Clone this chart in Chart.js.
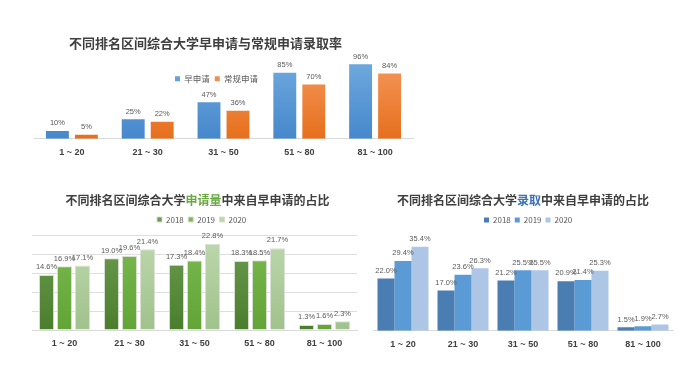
<!DOCTYPE html>
<html><head><meta charset="utf-8">
<script src="https://cdn.jsdelivr.net/npm/chart.js@4/dist/chart.umd.min.js"></script>
<style>
html,body{margin:0;padding:0;background:#fff;width:699px;height:366px;overflow:hidden;}
canvas{position:absolute;}
</style></head><body>
<canvas id="c1" width="699" height="170" style="left:0;top:0"></canvas>
<canvas id="c2" width="360" height="196" style="left:0;top:170px"></canvas>
<canvas id="c3" width="339" height="196" style="left:360px;top:170px"></canvas>
<script>
// ---- data ----
const categories = ['1 ~ 20', '21 ~ 30', '31 ~ 50', '51 ~ 80', '81 ~ 100'];
const rateSeries = ['早申请', '常规申请'];
const earlyAdmitRate = [10, 25, 47, 85, 96];
const regularAdmitRate = [5, 22, 36, 70, 84];
const years = ['2018', '2019', '2020'];
const appShare2018 = [14.6, 19.0, 17.3, 18.3, 1.3];
const appShare2019 = [16.9, 19.6, 18.4, 18.5, 1.6];
const appShare2020 = [17.1, 21.4, 22.8, 21.7, 2.3];
const admitShare2018 = [22.0, 17.0, 21.2, 20.9, 1.5];
const admitShare2019 = [29.4, 23.6, 25.5, 21.4, 1.9];
const admitShare2020 = [35.4, 26.3, 25.5, 25.3, 2.7];
const title1 = [{t: '不同排名区间综合大学早申请与常规申请录取率', c: '#3f3f3f'}];
const title2 = [{t: '不同排名区间综合大学', c: '#3f3f3f'}, {t: '申请量', c: '#6aa842'}, {t: '中来自早申请的占比', c: '#3f3f3f'}];
const title3 = [{t: '不同排名区间综合大学', c: '#3f3f3f'}, {t: '录取', c: '#3a72b8'}, {t: '中来自早申请的占比', c: '#3f3f3f'}];

const NUM = '"Liberation Sans", "Noto Sans CJK SC", sans-serif';
const CJK = '"Noto Sans CJK SC", "Liberation Sans", sans-serif';

function vGrad(top, bottom) {
  return (c) => {
    const ca = c.chart.chartArea;
    if (!ca || c.type !== 'data') return bottom;
    const g = c.chart.ctx.createLinearGradient(0, ca.top, 0, ca.bottom);
    g.addColorStop(0, top); g.addColorStop(1, bottom);
    return g;
  };
}
function titlePlugin(parts, cx, cy, size) {
  return { id: 'segTitle', afterDraw(chart) {
    const ctx = chart.ctx; ctx.save();
    ctx.font = 'bold ' + size + 'px ' + CJK; ctx.textBaseline = 'middle'; ctx.textAlign = 'left';
    let total = 0; parts.forEach(p => total += ctx.measureText(p.t).width);
    let x = cx - total / 2;
    parts.forEach(p => { ctx.fillStyle = p.c; ctx.fillText(p.t, x, cy); x += ctx.measureText(p.t).width; });
    ctx.restore();
  }};
}
function valueLabels(fmt, size, gap) {
  return { id: 'valueLabels', afterDatasetsDraw(chart) {
    const ctx = chart.ctx; ctx.save();
    ctx.font = size + 'px ' + NUM; ctx.fillStyle = '#595959';
    ctx.textAlign = 'center'; ctx.textBaseline = 'bottom';
    chart.data.datasets.forEach((ds, i) => {
      chart.getDatasetMeta(i).data.forEach((bar, j) => ctx.fillText(fmt(ds.data[j]), bar.x, bar.y - gap));
    });
    ctx.restore();
  }};
}
function legendAt(x, y) {
  return { id: 'legendAt',
    beforeInit(chart) { const lg = chart.legend; const fit = lg.fit; lg.fit = function () { fit.call(this); this.height = 0; }; },
    afterLayout(chart) { const lg = chart.legend; const p = lg.options.labels.padding;
      lg.left = x - p; lg.right = lg.left + 300; lg.top = y - p; lg.bottom = lg.top + 30; }
  };
}
function legendOpts(size, pad) {
  return { display: true, position: 'top', align: 'start',
    labels: { boxWidth: 5, boxHeight: 5, padding: pad, color: '#595959', font: { size: size, family: CJK } } };
}
function xAxis() {
  return { grid: { display: false, drawTicks: false }, border: { display: true, color: '#d9d9d9' },
    ticks: { padding: 8, color: '#404040', maxRotation: 0, autoSkip: false, font: { size: 9, weight: 'bold', family: NUM } } };
}
Chart.defaults.animation = false;
Chart.defaults.font.family = CJK;

new Chart(document.getElementById('c1'), {
  type: 'bar',
  data: { labels: categories, datasets: [
    { label: rateSeries[0], data: earlyAdmitRate, backgroundColor: vGrad('#6fa9de', '#4688cc'), categoryPercentage: 0.765, barPercentage: 0.79 },
    { label: rateSeries[1], data: regularAdmitRate, backgroundColor: vGrad('#f5975c', '#e66f1c'), categoryPercentage: 0.765, barPercentage: 0.79 }
  ]},
  options: { responsive: false, layout: { padding: { left: 34, right: 286, top: 61.2, bottom: 4.5 } },
    plugins: { legend: legendOpts(8.5, 5), tooltip: { enabled: false } },
    scales: { x: xAxis(), y: { display: false, min: 0, max: 100 } } },
  plugins: [titlePlugin(title1, 205.5, 43.3, 13), valueLabels(v => v + '%', 7.5, 4), legendAt(175, 74.5)]
});

new Chart(document.getElementById('c2'), {
  type: 'bar',
  data: { labels: categories, datasets: [
    { label: years[0], data: appShare2018, backgroundColor: vGrad('#6c9c52', '#4a7e2b'), borderColor: 'rgba(215,220,210,0.9)', borderWidth: 1, categoryPercentage: 0.83, barPercentage: 0.84 },
    { label: years[1], data: appShare2019, backgroundColor: vGrad('#7aba50', '#62a436'), borderColor: 'rgba(215,220,210,0.9)', borderWidth: 1, categoryPercentage: 0.83, barPercentage: 0.84 },
    { label: years[2], data: appShare2020, backgroundColor: vGrad('#bdd8ae', '#a0c28b'), borderColor: 'rgba(215,220,210,0.9)', borderWidth: 1, categoryPercentage: 0.83, barPercentage: 0.84 }
  ]},
  options: { responsive: false, layout: { padding: { left: 32, right: 3, top: 65.7, bottom: 9.2 } },
    plugins: { legend: legendOpts(8, 4.5), tooltip: { enabled: false } },
    scales: { x: xAxis(), y: { min: 0, max: 25, ticks: { display: false, stepSize: 5 }, grid: { color: '#dedede', drawTicks: false }, border: { display: false } } } },
  plugins: [titlePlugin(title2, 197.5, 30, 12), valueLabels(v => v.toFixed(1) + '%', 7.5, 4), legendAt(157, 45.5)]
});

new Chart(document.getElementById('c3'), {
  type: 'bar',
  data: { labels: categories, datasets: [
    { label: years[0], data: admitShare2018, backgroundColor: '#4a7db2', categoryPercentage: 0.85, barPercentage: 1 },
    { label: years[1], data: admitShare2019, backgroundColor: '#5b9bd5', categoryPercentage: 0.85, barPercentage: 1 },
    { label: years[2], data: admitShare2020, backgroundColor: '#adc6e6', categoryPercentage: 0.85, barPercentage: 1 }
  ]},
  options: { responsive: false, layout: { padding: { left: 13, right: 26, top: 65.8, bottom: 8.4 } },
    plugins: { legend: legendOpts(8, 4), tooltip: { enabled: false } },
    scales: { x: xAxis(), y: { display: false, min: 0, max: 40 } } },
  plugins: [titlePlugin(title3, 163, 30, 12), valueLabels(v => v.toFixed(1) + '%', 7.5, 4), legendAt(124, 46)]
});
</script>
</body></html>
